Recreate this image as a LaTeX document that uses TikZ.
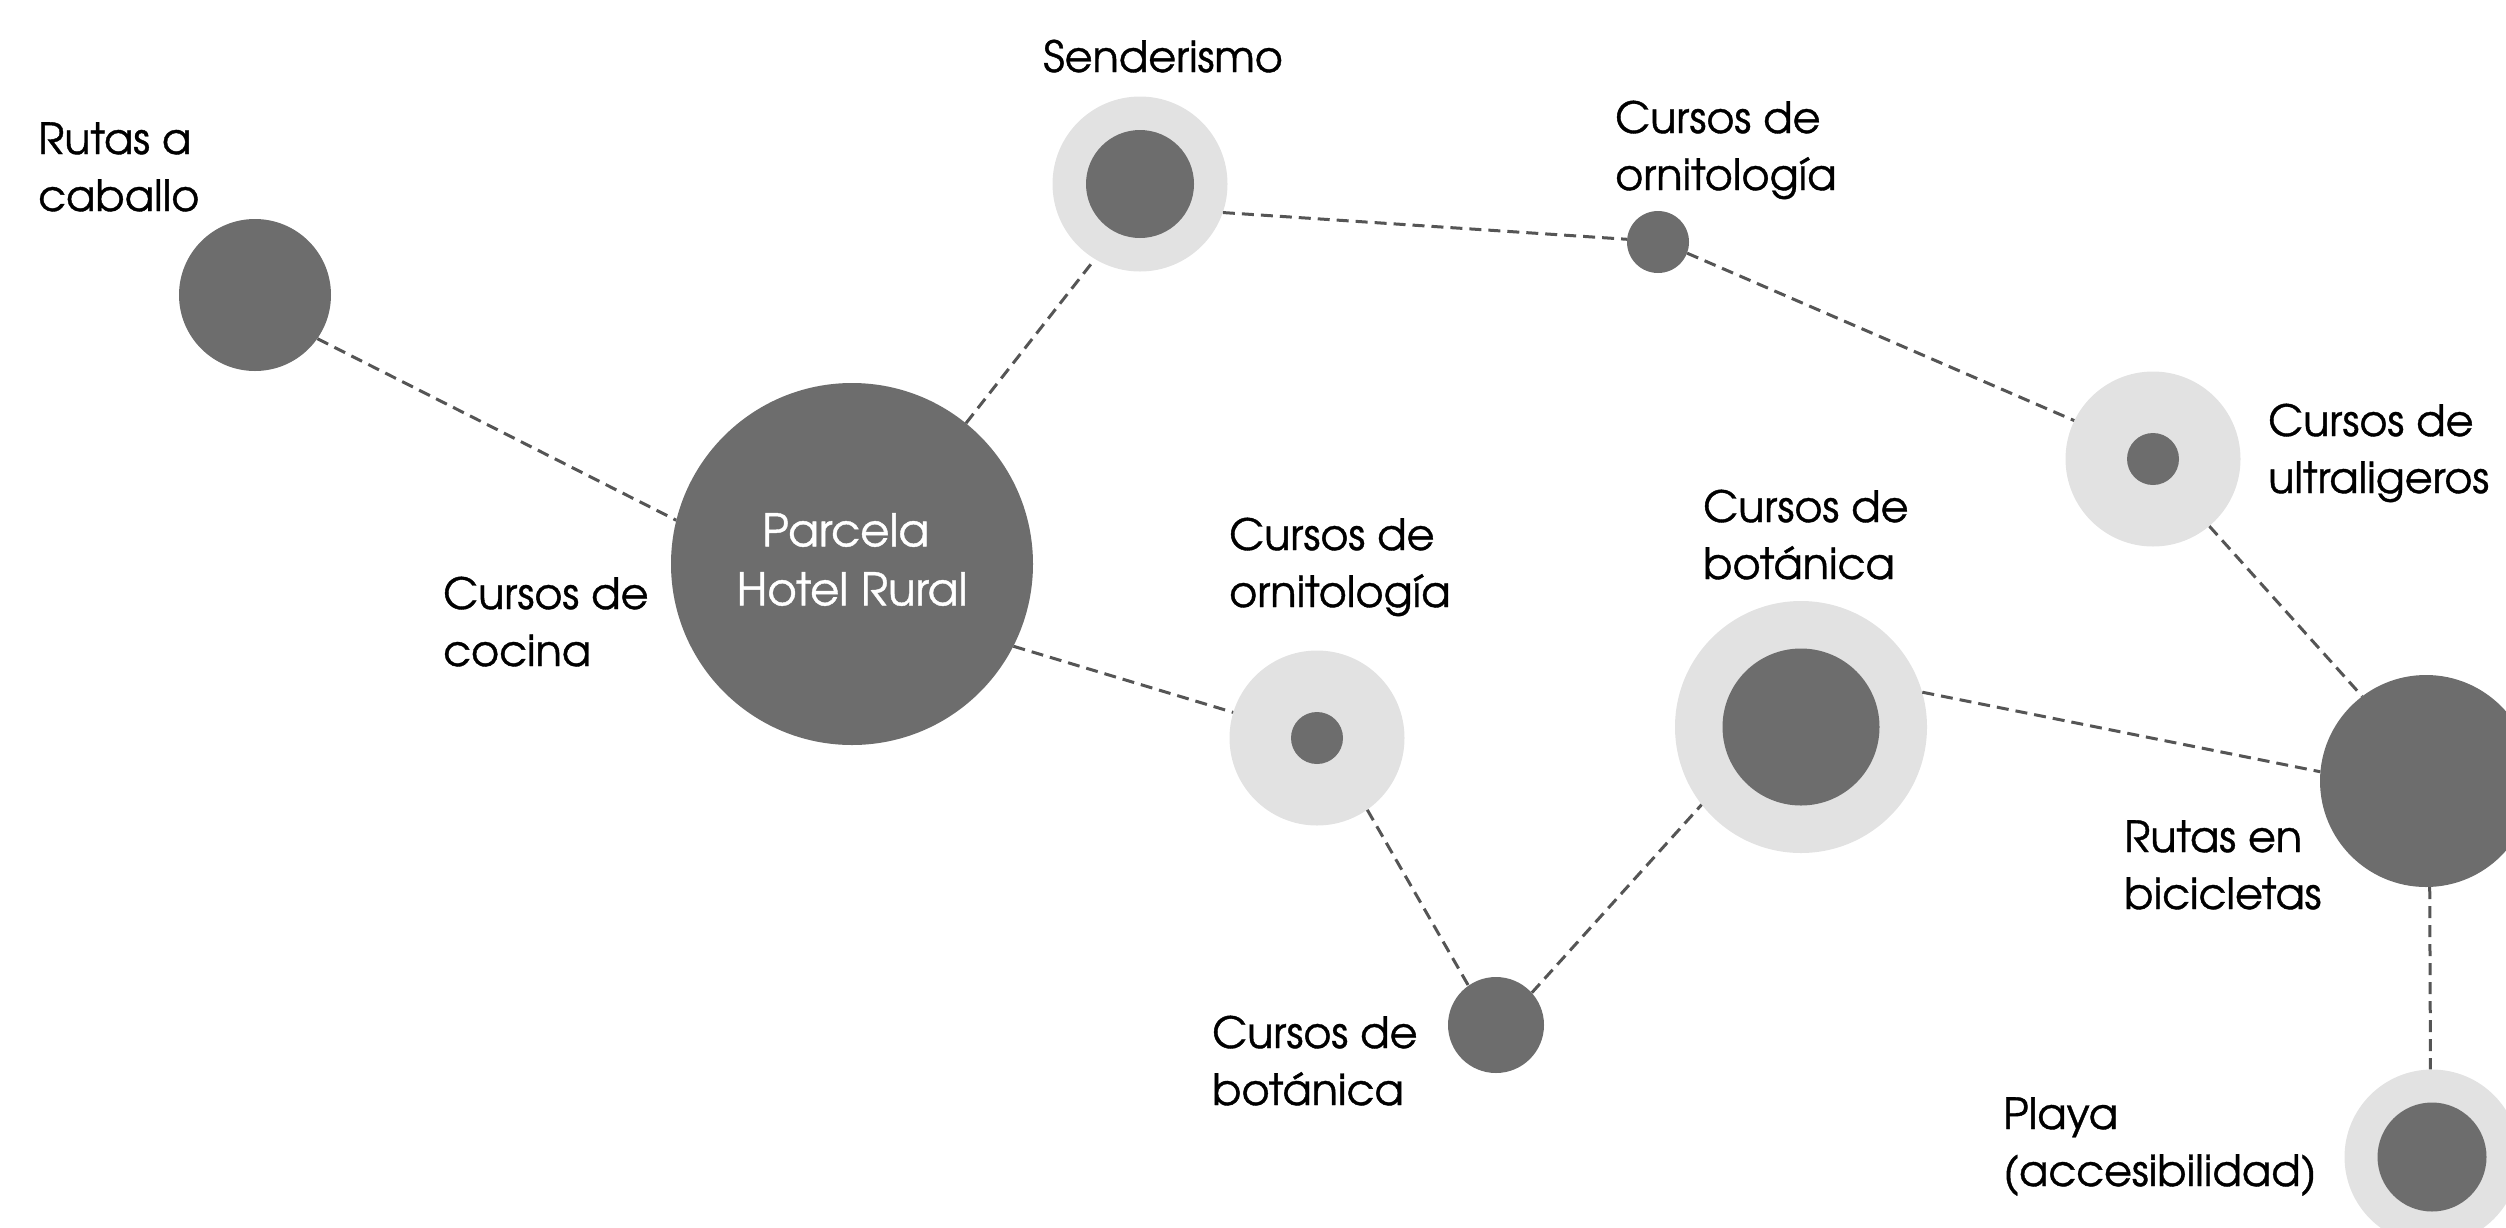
\documentclass[tikz,border=0pt]{standalone}
\usepackage{fontspec}
\IfFontExistsTF{texgyreadventor-regular.otf}
  {\setmainfont{texgyreadventor-regular.otf}[FakeBold=0.9]}
  {\setmainfont{Poppins}}
\definecolor{darkc}{HTML}{6D6D6D}
\definecolor{lightc}{HTML}{E2E2E2}
\definecolor{dashc}{HTML}{555555}
\tikzset{
  link/.style={draw=dashc, line width=3pt, dash pattern=on 12pt off 7pt},
  dotnode/.style={circle, fill=darkc, inner sep=0pt, minimum size=#1},
  ringnode/.style={circle, fill=lightc, inner sep=0pt, minimum size=#1},
  lbl/.style={anchor=base west, inner sep=0pt, font=\fontsize{43}{57}\selectfont\bfseries},
}
\newcommand{\twolines}[2]{\begin{tabular}[t]{@{}l@{}}#1\\#2\end{tabular}}
\begin{document}
\begin{tikzpicture}[x=1pt,y=-1pt]
\useasboundingbox (0,0) rectangle (2506,1227);
\clip (0,0) rectangle (2506,1227);
% circles
\node[dotnode=152pt] (cab) at (255,295) {};
\node[dotnode=362pt, text=white, font=\fontsize{45}{59}\selectfont\bfseries] (hotel) at (852,564)
  {\begin{tabular}{@{}c@{}}Parcela\kern.28em\\Hotel Rural\end{tabular}};
\node[ringnode=175pt] (sen) at (1140,184) {};
\node[dotnode=108pt] (senc) at (sen) {};
\node[dotnode=62pt] (orn1) at (1658,242) {};
\node[ringnode=175pt] (ult) at (2153,459) {};
\node[dotnode=52pt] (ultc) at (ult) {};
\node[ringnode=175pt] (orn2) at (1317,738) {};
\node[dotnode=52pt] (orn2c) at (orn2) {};
\node[ringnode=252pt] (bot1) at (1801,727) {};
\node[dotnode=157pt] (bot1c) at (bot1) {};
\node[dotnode=96pt] (bot2) at (1496,1025) {};
\node[dotnode=212pt] (bic) at (2426,781) {};
\node[ringnode=175pt] (pla) at (2432,1157) {};
\node[dotnode=109pt] (plac) at (pla) {};
% connectors
\draw[link] (cab.-35) -- (hotel.166);
\draw[link] (hotel.51) -- (sen.239);
\draw[link] (sen.-19) -- (orn1.175);
\draw[link] (orn1.-21) -- (ult.154);
\draw[link] (ult.-50) -- (bic.127);
\draw[link] (hotel.-27) -- (orn2.163);
\draw[link] (orn2.-55) -- (bot2.125);
\draw[link] (bot2.42) -- (bot1.218);
\draw[link] (bot1.16) -- (bic.175);
\draw[link] (bic.-88) -- (pla.91);
% labels
\node[lbl] (lcab) at (38,154) {\twolines{Rutas a}{caballo}};
\node[lbl] (lsen) at (1043,72) {Senderismo};
\node[lbl] (lorn1) at (1615,133) {\twolines{Cursos de}{ornitología}};
\node[lbl] (lult) at (2268,436) {\twolines{Cursos de}{ultraligeros}};
\node[lbl] (lcoc) at (443,609) {\twolines{Cursos de}{cocina}};
\node[lbl] (lorn2) at (1229,550) {\twolines{Cursos de}{ornitología}};
\node[lbl] (lbot1) at (1703,522) {\twolines{Cursos de}{botánica}};
\node[lbl] (lbot2) at (1212,1048) {\twolines{Cursos de}{botánica}};
\node[lbl] (lbic) at (2124,852) {\twolines{Rutas en}{bicicletas}};
\node[lbl] (lpla) at (2003,1129) {\twolines{Playa}{(accesibilidad)}};
\end{tikzpicture}
\end{document}
